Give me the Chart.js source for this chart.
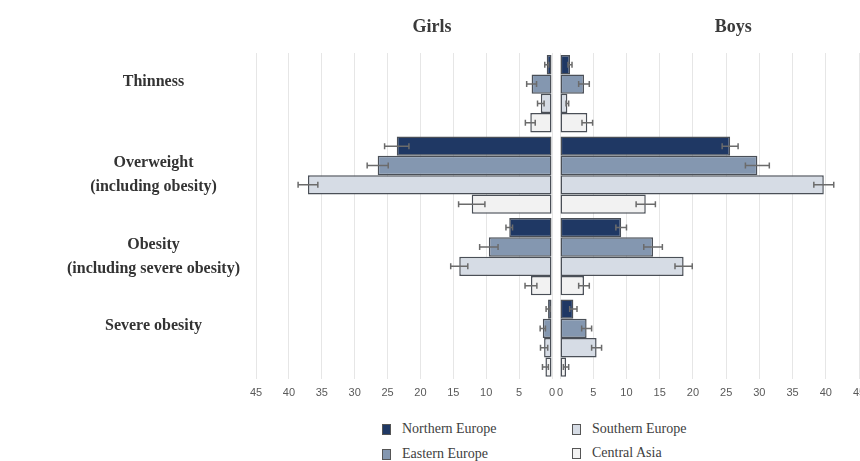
<!DOCTYPE html>
<html>
<head>
<meta charset="utf-8">
<script src="https://cdn.jsdelivr.net/npm/chart.js@4.4.1/dist/chart.umd.min.js"></script>
<style>
  html, body { margin: 0; padding: 0; background: #fff; overflow: hidden; }
  #wrap { position: relative; width: 860px; height: 461px; overflow: hidden; }
  #wrap canvas { position: absolute; top: 0; }
  #girls { left: 0; }
  #boys { left: 549px; }
  .item { position: absolute; display: flex; align-items: center; white-space: nowrap;
          font-family: "Liberation Serif", serif; font-size: 14px; color: #404040; height: 16px; }
  .sw { width: 9px; height: 11px; box-sizing: border-box; border: 1px solid #555; margin-right: 11px; }
</style>
</head>
<body>
<div id="wrap">
  <canvas id="girls" width="557" height="418"></canvas>
  <canvas id="boys" width="330" height="418"></canvas>
</div>
<script>
// Weight-status categories (second empty line keeps single-line labels aligned like the two-line ones)
const categories = [
  ["Thinness", ""],
  ["Overweight", "(including obesity)"],
  ["Obesity", "(including severe obesity)"],
  ["Severe obesity", ""]
];
const regions = ["Northern Europe", "Eastern Europe", "Southern Europe", "Central Asia"];
const xTicks = [0, 5, 10, 15, 20, 25, 30, 35, 40, 45];

// Prevalence (%) by region — girls
const girlsNorthern = [0.8, 23.6, 6.5, 0.6];
const girlsEastern  = [3.1, 26.5, 9.6, 1.4];
const girlsSouthern = [1.7, 37.1, 14.1, 1.2];
const girlsCentral  = [3.3, 12.2, 3.2, 1.0];
// 95% CI half-widths — girls
const girlsNorthernErr = [0.3, 1.85, 0.5, 0.3];
const girlsEasternErr  = [0.75, 1.6, 1.4, 0.4];
const girlsSouthernErr = [0.5, 1.5, 1.3, 0.55];
const girlsCentralErr  = [0.75, 2.0, 0.9, 0.45];

// Prevalence (%) by region — boys
const boysNorthern = [1.5, 25.6, 9.2, 2.0];
const boysEastern  = [3.6, 29.7, 14.0, 4.0];
const boysSouthern = [1.1, 39.7, 18.6, 5.5];
const boysCentral  = [4.1, 12.9, 3.6, 0.9];
// 95% CI half-widths — boys
const boysNorthernErr = [0.3, 1.2, 0.8, 0.55];
const boysEasternErr  = [0.8, 1.8, 1.4, 0.75];
const boysSouthernErr = [0.2, 1.5, 1.3, 0.75];
const boysCentralErr  = [0.8, 1.45, 0.8, 0.4];

const fills = ["#1f3864", "#8497b0", "#d6dce5", "#f2f2f2"];
const outline = "#4a4f57";

// Whiskers drawn at each bar end from the dataset's error values
const errorBars = {
  id: "errorBars",
  afterDatasetsDraw(chart) {
    const ctx = chart.ctx, xs = chart.scales.x;
    ctx.save();
    ctx.strokeStyle = "#6b6b6b";
    ctx.lineWidth = 1.5;
    chart.data.datasets.forEach((ds, di) => {
      chart.getDatasetMeta(di).data.forEach((bar, i) => {
        const v = ds.data[i], e = ds.errors[i];
        const x1 = xs.getPixelForValue(v - e), x2 = xs.getPixelForValue(v + e);
        const y = bar.y, cap = 3;
        ctx.beginPath();
        ctx.moveTo(x1, y); ctx.lineTo(x2, y);
        ctx.moveTo(x1, y - cap); ctx.lineTo(x1, y + cap);
        ctx.moveTo(x2, y - cap); ctx.lineTo(x2, y + cap);
        ctx.stroke();
      });
    });
    ctx.restore();
  }
};

// Panel heading placed over the plot area
const panelTitle = {
  id: "panelTitle",
  afterDraw(chart, args, opts) {
    const a = chart.chartArea, ctx = chart.ctx;
    ctx.save();
    ctx.font = 'bold 18px "Liberation Serif", serif';
    ctx.fillStyle = "#3a3a3a";
    ctx.textAlign = "center";
    ctx.textBaseline = "middle";
    ctx.fillText(opts.text, a.left + opts.at * (a.right - a.left), opts.y);
    ctx.restore();
  }
};

function panel(id, title, at, values, errors, isGirls) {
  return new Chart(document.getElementById(id), {
    type: "bar",
    data: {
      labels: categories,
      datasets: regions.map((name, k) => ({
        label: name,
        data: values[k],
        errors: errors[k],
        backgroundColor: fills[k],
        borderColor: outline,
        borderWidth: 1.5,
        borderSkipped: false,
        categoryPercentage: 0.95,
        barPercentage: 1.0
      }))
    },
    options: {
      indexAxis: "y",
      responsive: false,
      animation: false,
      layout: {
        padding: isGirls ? { top: 53, right: 5, bottom: 10, left: 0 }
                         : { top: 53, right: 20, bottom: 10, left: 5 }
      },
      scales: {
        x: {
          reverse: isGirls,
          min: xTicks[0],
          max: xTicks[xTicks.length - 1],
          afterBuildTicks: s => { s.ticks = xTicks.map(v => ({ value: v })); },
          ticks: { padding: 8, color: "#595959", font: { family: "Liberation Sans", size: 11 } },
          grid: { color: "#e6e6e6", drawTicks: false },
          border: { display: false }
        },
        y: {
          display: isGirls,
          grid: { display: false },
          border: { display: false },
          ticks: {
            autoSkip: false,
            crossAlign: "center",
            padding: 8,
            color: "#333333",
            font: { family: "Liberation Serif", size: 16, weight: "bold", lineHeight: 1.5 }
          },
          afterFit: s => { if (isGirls) s.width = 256; }
        }
      },
      plugins: {
        legend: { display: false },
        tooltip: { enabled: false },
        panelTitle: { text: title, at: at, y: 27 }
      }
    },
    plugins: [errorBars, panelTitle]
  });
}

panel("girls", "Girls", 0.595,
  [girlsNorthern, girlsEastern, girlsSouthern, girlsCentral],
  [girlsNorthernErr, girlsEasternErr, girlsSouthernErr, girlsCentralErr], true);
panel("boys", "Boys", 0.579,
  [boysNorthern, boysEastern, boysSouthern, boysCentral],
  [boysNorthernErr, boysEasternErr, boysSouthernErr, boysCentralErr], false);

// Legend in two columns: Northern/Eastern on the left, Southern/Central Asia on the right
const legendSpots = [[382, 421], [382, 446], [572, 421], [572, 445]];
const wrap = document.getElementById("wrap");
regions.forEach((name, k) => {
  const item = document.createElement("div");
  item.className = "item";
  item.style.left = legendSpots[k][0] + "px";
  item.style.top = legendSpots[k][1] + "px";
  const sw = document.createElement("span");
  sw.className = "sw";
  sw.style.background = fills[k];
  const label = document.createElement("span");
  label.textContent = name;
  item.appendChild(sw);
  item.appendChild(label);
  wrap.appendChild(item);
});
</script>
</body>
</html>
